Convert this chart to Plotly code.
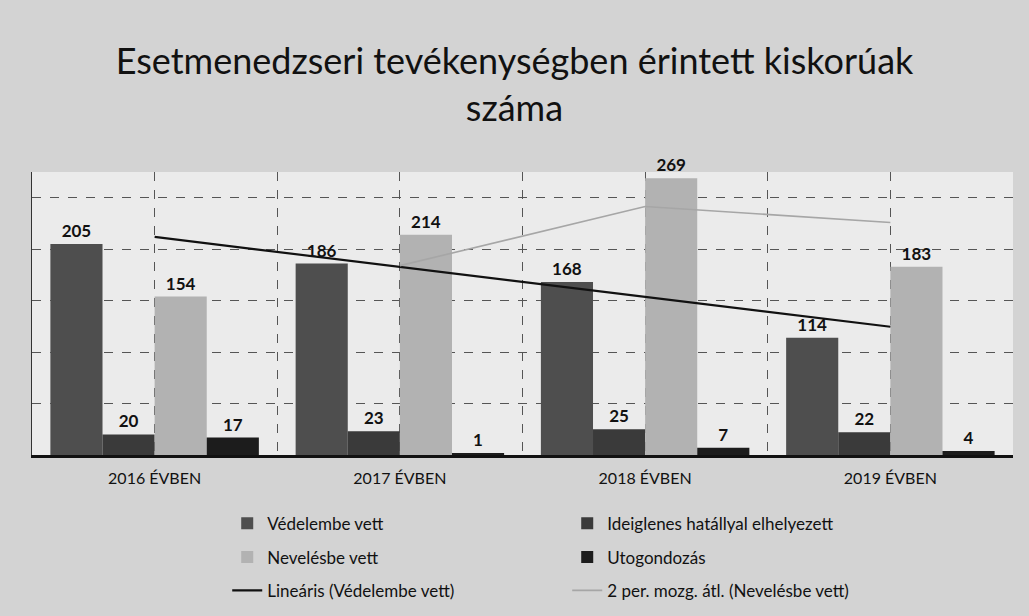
import numpy as np
import plotly.graph_objects as go

categories = ["2016 ÉVBEN", "2017 ÉVBEN", "2018 ÉVBEN", "2019 ÉVBEN"]
vedelembe = [205, 186, 168, 114]
ideiglenes = [20, 23, 25, 22]
nevelesbe = [154, 214, 269, 183]
utogondozas = [17, 1, 7, 4]

series_names = ["Védelembe vett", "Ideiglenes hatállyal elhelyezett", "Nevelésbe vett", "Utogondozás"]
series_values = [vedelembe, ideiglenes, nevelesbe, utogondozas]
series_colors = ["#4e4e4e", "#3a3a3a", "#b2b2b2", "#1c1c1c"]
series_legends = ["legend", "legend", "legend2", "legend2"]

x = np.arange(len(categories))

fig = go.Figure()
for name, vals, col, lg in zip(series_names, series_values, series_colors, series_legends):
    fig.add_trace(go.Bar(
        x=x, y=vals, name=name, legend=lg,
        marker=dict(color=col, line=dict(width=0)),
        text=[str(v) for v in vals], textposition="outside",
        textfont=dict(family="Lato", size=17, color="#111111", weight="bold"),
        cliponaxis=False,
    ))

# Linear trendline of Védelembe vett
coef = np.polyfit(x, vedelembe, 1)
trend = np.polyval(coef, x)
fig.add_trace(go.Scatter(
    x=x, y=trend, mode="lines", name="Lineáris (Védelembe vett)", legend="legend3",
    line=dict(color="#111111", width=2.2),
))

# 2-period moving average of Nevelésbe vett
ma_x = x[1:]
ma_y = [(nevelesbe[i - 1] + nevelesbe[i]) / 2 for i in range(1, len(nevelesbe))]
fig.add_trace(go.Scatter(
    x=ma_x, y=ma_y, mode="lines", name="2 per. mozg. átl. (Nevelésbe vett)", legend="legend3",
    line=dict(color="#a6a6a6", width=1.6),
))

def legend_row(yc):
    return dict(
        orientation="h", x=0.199, xanchor="left", y=yc, yanchor="middle",
        entrywidth=295, entrywidthmode="pixels",
        font=dict(family="Lato", size=17, color="#111111"),
        bgcolor="rgba(0,0,0,0)", traceorder="normal",
    )

fig.update_layout(
    width=1029, height=616,
    paper_bgcolor="#d3d3d3",
    plot_bgcolor="#ebebeb",
    margin=dict(l=32, r=16, t=172, b=161, autoexpand=False),
    title=dict(
        text="Esetmenedzseri tevékenységben érintett kiskorúak<br>száma",
        x=0.5, xanchor="center", y=0.880, yanchor="top",
        font=dict(family="Lato", size=36, color="#111111"),
    ),
    barmode="group", bargap=0.15, bargroupgap=0,
    showlegend=True,
    legend=legend_row(-0.243),
    legend2=legend_row(-0.362),
    legend3=legend_row(-0.480),
    font=dict(family="Lato", color="#111111"),
)

fig.update_xaxes(
    range=[-0.5, 3.5],
    tickvals=list(x), ticktext=categories,
    tickfont=dict(family="Lato", size=16, color="#111111"),
    ticklabelstandoff=7,
    showgrid=True, gridcolor="#555555", griddash="dash", gridwidth=1,
    minor=dict(dtick=0.5, tick0=0.5, showgrid=True, gridcolor="#555555", griddash="dash", gridwidth=1),
    showline=True, linecolor="#111111", linewidth=3,
    ticks="", zeroline=False, mirror=False,
)
fig.update_yaxes(
    range=[0, 275], dtick=50,
    showticklabels=False,
    showgrid=True, gridcolor="#555555", griddash="dash", gridwidth=1,
    showline=True, linecolor="#333333", linewidth=1,
    zeroline=False, ticks="",
)

fig.write_html("out.html", config={"displayModeBar": False},
               post_script="document.body.style.margin='0px';")
